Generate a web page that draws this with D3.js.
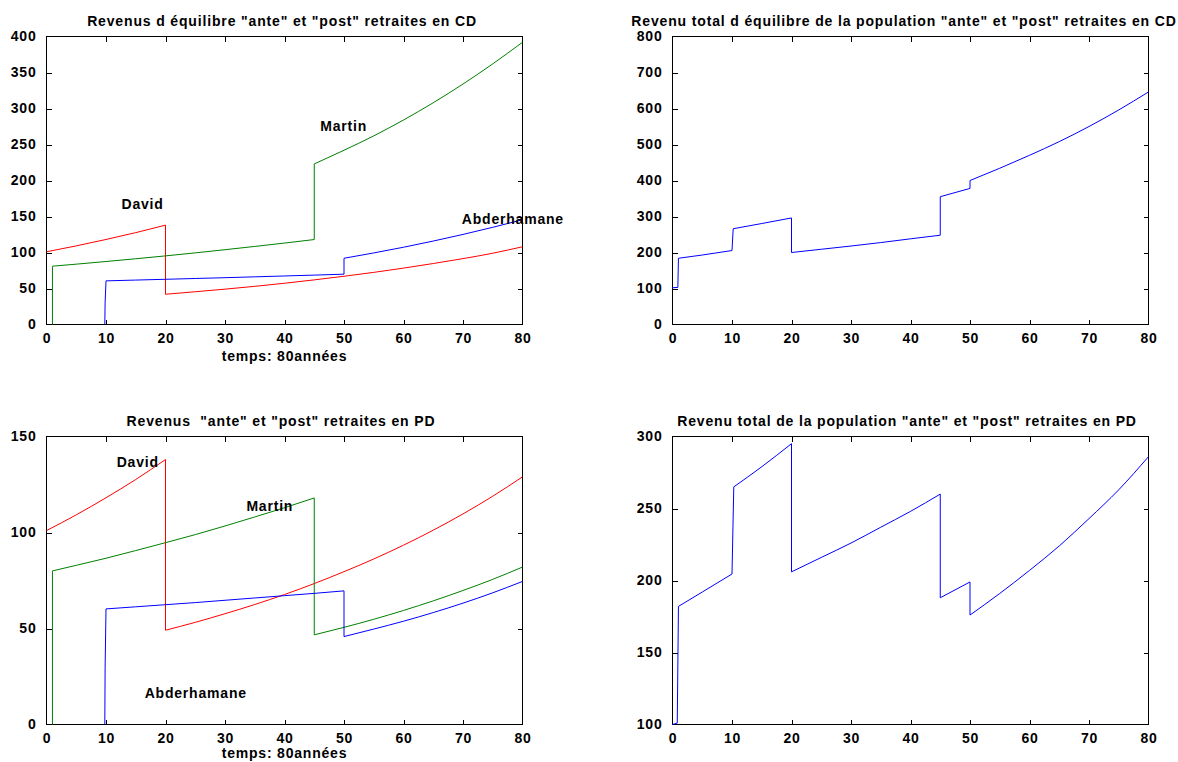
<!DOCTYPE html>
<html><head><meta charset="utf-8">
<script src="https://cdn.jsdelivr.net/npm/d3@7"></script>
<style>
html,body{margin:0;padding:0;background:#fff;}
svg{display:block;}
text{font-family:"Liberation Sans",Arial,Helvetica,sans-serif;font-weight:bold;fill:#000;white-space:pre;}
</style></head><body>
<svg id="chart" width="1178" height="762"></svg>
<script>
// ---------- DATA ----------
const xTicks = [0,10,20,30,40,50,60,70,80];

// Panel 1: "CD" individual incomes
const davidCD_t = [0,5,10,15,20,20,25,30,35,40,45,50,55,60,65,70,75,80];
const davidCD_v = [101,109.2,118.1,127.6,138,42,45.5,49.1,53,57.3,62,67,72.4,78.3,84.7,91.5,99,108];
const martinCD_t = [1,1,5,10,15,20,25,30,35,40,45,45,50,55,60,65,70,75,80];
const martinCD_v = [0,81,83.8,87.5,91.3,95.3,99.5,103.9,108.4,113.1,118,223,242,262,284,308,334,362,392];
const abderCD_t = [9.8,9.85,10,15,20,25,30,35,40,45,50,50,55,60,65,70,75,80];
const abderCD_v = [0,30,60.6,61.7,62.8,63.9,65,66.2,67.4,68.6,69.9,92,99.4,107.3,115.9,125.1,135,145.5];
const yTicksCD = [0,50,100,150,200,250,300,350,400];

// Panel 2: total "CD"
const totalCD_t = [0,0.9,1,5,10,10.2,15,20,20,25,30,35,40,45,45,50,50,55,60,65,70,75,80];
const totalCD_v = [102,103,184,193,205.5,266,280.5,296,200,209,218,227.6,238,248,355,378,400,434,470,508,550,596,646];
const yTicksTotCD = [0,100,200,300,400,500,600,700,800];

// Panel 3: "PD" individual incomes
const davidPD_t = [0,5,10,15,20,20,25,30,35,40,45,50,55,60,65,70,75,80];
const davidPD_v = [101,109.2,118.1,127.6,138,49.1,53.2,57.7,62.5,67.7,73.4,79.6,86.2,93.4,101.2,109.7,118.9,129];
const martinPD_t = [1,1,5,10,15,20,25,30,35,40,45,45,50,55,60,65,70,75,80];
const martinPD_v = [0,80,82.9,86.6,90.6,94.7,98.9,103.4,108.1,112.9,118,46.7,50.6,54.8,59.4,64.4,69.8,75.6,82];
const abderPD_t = [9.8,9.85,10,15,20,25,30,35,40,45,50,50,55,60,65,70,75,80];
const abderPD_v = [0,29,60.2,61.3,62.4,63.5,64.7,65.9,67.1,68.3,69.6,45.8,49.7,53.8,58.3,63.2,68.6,74.5];
const yTicksPD = [0,50,100,150];

// Panel 4: total "PD"
const totalPD_t = [0,0.8,1,5,10,10.3,15,20,20,25,30,35,40,45,45,50,50,55,60,65,70,75,80];
const totalPD_v = [100,101,182,192,204.5,265,279,295,206,216,226,237,248,260,188,199,176,191,207,224,243,263,286];
const yTicksTotPD = [100,150,200,250,300];

// Titles and labels
const titles = [
  'Revenus d équilibre "ante" et "post" retraites en CD',
  'Revenu total d équilibre de la population "ante" et "post" retraites en CD',
  'Revenus  "ante" et "post" retraites en PD',
  'Revenu total de la population "ante" et "post" retraites en PD'
];
const xLabel = 'temps: 80années';
const names = ['David','Martin','Abderhamane'];
const labelPosCD = [[12.6,160],[46,269],[69.8,140]];
const labelPosPD = [[11.8,134],[33.6,111],[16.5,14]];

const RED = '#ff0000', GREEN = '#008000', BLUE = '#0000ff';

// ---------- DRAWING ----------
const svg = d3.select('#chart');
const zip = (t,v) => t.map((d,i)=>[d,v[i]]);

function panel(o){
  const g = svg.append('g');
  const x = d3.scaleLinear().domain([0,80]).range([o.l,o.r]);
  const y = d3.scaleLinear().domain(o.yd).range([o.b,o.t]);
  const smooth = d3.line().x(d=>x(d[0])).y(d=>y(d[1])).curve(d3.curveMonotoneX);
  const straight = d3.line().x(d=>x(d[0])).y(d=>y(d[1]));
  const TL = 5;
  g.append('rect').attr('x',o.l).attr('y',o.t).attr('width',o.r-o.l).attr('height',o.b-o.t)
    .attr('fill','none').attr('stroke','#000').attr('stroke-width',1).attr('shape-rendering','crispEdges');
  const xb = g.append('g').attr('transform',`translate(0,${o.b})`)
    .call(d3.axisBottom(x).tickValues(xTicks).tickSizeInner(-TL).tickSizeOuter(0).tickPadding(TL+4));
  const xt = g.append('g').attr('transform',`translate(0,${o.t})`)
    .call(d3.axisTop(x).tickValues(xTicks).tickSizeInner(-TL).tickSizeOuter(0).tickFormat(''));
  const yl = g.append('g').attr('transform',`translate(${o.l},0)`)
    .call(d3.axisLeft(y).tickValues(o.yt).tickSizeInner(-TL).tickSizeOuter(0).tickPadding(TL+5));
  const yr = g.append('g').attr('transform',`translate(${o.r},0)`)
    .call(d3.axisRight(y).tickValues(o.yt).tickSizeInner(-TL).tickSizeOuter(0).tickFormat(''));
  [xb,xt,yl,yr].forEach(a=>{
    a.select('.domain').remove();
    a.selectAll('line').attr('stroke','#000').attr('shape-rendering','crispEdges');
    a.selectAll('text').attr('font-size',14).attr('font-family','"Liberation Sans",Arial,sans-serif')
      .attr('font-weight','bold').attr('fill','#000').style('letter-spacing','0.8px');
  });
  [xb,xt].forEach(a=>a.selectAll('.tick line').filter(d=>d===0||d===80).remove());
  [yl,yr].forEach(a=>a.selectAll('.tick line').filter(d=>d===o.yd[0]||d===o.yd[1]).remove());
  // series: smooth runs between jumps, straight jumps
  o.series.forEach(s=>{
    const pts = zip(s.t,s.v);
    let run = [pts[0]];
    const runs = [], jumps = [];
    for(let i=1;i<pts.length;i++){
      if(pts[i][0]-pts[i-1][0] < 1){
        if(run.length>1) runs.push(run);
        jumps.push([pts[i-1],pts[i]]);
        run = [pts[i]];
      } else run.push(pts[i]);
    }
    if(run.length>1) runs.push(run);
    runs.forEach(r=>g.append('path').datum(r).attr('d',smooth).attr('fill','none')
      .attr('stroke',s.c).attr('stroke-width',1));
    jumps.forEach(r=>g.append('path').datum(r).attr('d',straight).attr('fill','none')
      .attr('stroke',s.c).attr('stroke-width',1));
  });
  (o.labels||[]).forEach((p,i)=>{
    g.append('text').attr('x',x(p[0])).attr('y',y(p[1])).attr('font-size',14)
      .style('letter-spacing','0.8px').text(names[i]);
  });
  g.append('text').attr('x',o.tx||(o.l+o.r)/2).attr('y',o.t-10.5).attr('text-anchor','middle')
    .attr('font-size',14).style('letter-spacing','0.85px').text(o.title);
  if(o.xlab){
    g.append('text').attr('x',(o.l+o.r)/2).attr('y',o.b+o.xlabOff).attr('text-anchor','middle')
      .attr('font-size',14).style('letter-spacing','0.8px').text(xLabel);
  }
}

panel({l:46.5,r:522.5,t:36.5,b:324.5,yd:[0,400],yt:yTicksCD,title:titles[0],xlab:true,xlabOff:36.5,tx:282,
  series:[{t:davidCD_t,v:davidCD_v,c:RED},{t:martinCD_t,v:martinCD_v,c:GREEN},{t:abderCD_t,v:abderCD_v,c:BLUE}],
  labels:labelPosCD});
panel({l:672.5,r:1148.5,t:36.5,b:324.5,yd:[0,800],yt:yTicksTotCD,title:titles[1],xlab:false,tx:904,
  series:[{t:totalCD_t,v:totalCD_v,c:BLUE}]});
panel({l:46.5,r:522.5,t:436.5,b:724.5,yd:[0,150],yt:yTicksPD,title:titles[2],xlab:true,xlabOff:33,tx:281,
  series:[{t:davidPD_t,v:davidPD_v,c:RED},{t:martinPD_t,v:martinPD_v,c:GREEN},{t:abderPD_t,v:abderPD_v,c:BLUE}],
  labels:labelPosPD});
panel({l:672.5,r:1148.5,t:436.5,b:724.5,yd:[100,300],yt:yTicksTotPD,title:titles[3],xlab:false,tx:907,
  series:[{t:totalPD_t,v:totalPD_v,c:BLUE}]});
</script>
</body></html>
